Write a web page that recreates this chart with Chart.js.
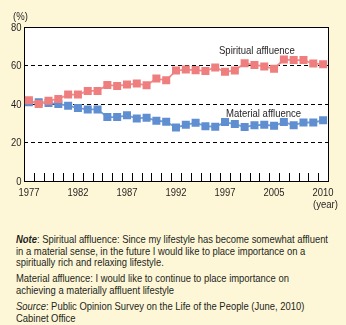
<!DOCTYPE html>
<html>
<head>
<meta charset="utf-8">
<script src="https://cdn.jsdelivr.net/npm/chart.js@4/dist/chart.umd.min.js"></script>
<style>
  html, body { margin: 0; padding: 0; }
  body { width: 346px; height: 325px; background: #FEF7D7; position: relative; overflow: hidden;
         font-family: "Liberation Sans", Arial, sans-serif; color: #231f20; }
  #c { position: absolute; left: 0; top: 0; }
  .lbl { position: absolute; white-space: nowrap; font-size: 11.5px; line-height: 12px; transform-origin: 0 50%; transform: scaleX(0.83); }
  .note { position: absolute; left: 16px; white-space: nowrap; font-size: 11px; line-height: 11.5px; transform-origin: 0 0; }
</style>
</head>
<body>
<canvas id="c" width="346" height="215"></canvas>
<div class="lbl" style="left:13px; top:10px;">(%)</div>
<div class="lbl" style="left:313px; top:198px;">(year)</div>
<div class="lbl" style="left:219px; top:44px;">Spiritual affluence</div>
<div class="lbl" style="left:226px; top:107px;">Material affluence</div>
<div class="note" id="n1" style="top:234px;"><b><i>Note</i></b>: Spiritual affluence: Since my lifestyle has become somewhat affluent<br>in a material sense, in the future I would like to place importance on a<br>spiritually rich and relaxing lifestyle.</div>
<div class="note" style="top:273px;">Material affluence: I would like to continue to place importance on<br>achieving a materially affluent lifestyle</div>
<div class="note" style="top:301px;"><i>Source</i>: Public Opinion Survey on the Life of the People (June, 2010)<br>Cabinet Office</div>
<script>
const categories = ['1977','1978','1979','1980','1981','1982','1983','1984','1985','1986',
  '1987','1988','1989','1990','1991','1992','1993','1994','1995','1996',
  '1997','1999','2001','2002','2003','2005','2006','2007','2008','2009','2010'];
const tickLabels = ['1977','1982','1987','1992','1997','2005','2010'];
const spiritual = [41.9,40.0,41.7,42.6,44.9,44.9,46.8,46.8,49.9,49.4,
  50.1,50.6,49.7,53.2,52.3,57.4,57.9,57.6,57.2,59.0,
  56.7,57.4,61.2,60.3,59.5,58.3,63.1,62.8,62.8,61.0,60.7];
const material = [40.9,40.9,40.5,40.0,39.1,37.9,37.2,37.2,33.2,33.2,
  34.1,32.5,32.9,31.3,30.8,27.8,29.2,30.3,28.5,28.2,
  30.6,29.6,28.0,29.0,29.2,28.7,30.6,29.0,30.4,30.4,31.5];
const yTicks = [0,20,40,60,80];

// fit note text width to the reference line width
(function () {
  const n1 = document.getElementById('n1');
  const w = n1.getBoundingClientRect().width;
  const k = 312 / w;
  document.querySelectorAll('.note').forEach(el => { el.style.transform = 'scaleX(' + k + ')'; });
})();

const TICK_FONT = '11.5px "Liberation Sans", Arial, sans-serif';
const SQZ = 0.82;

function squeezedText(ctx, text, x, y, align) {
  ctx.save();
  ctx.translate(x, y);
  ctx.scale(SQZ, 1);
  ctx.textAlign = align;
  ctx.textBaseline = 'middle';
  ctx.fillText(text, 0, 0);
  ctx.restore();
}

const framePlugin = {
  id: 'frame',
  beforeDraw(chart) {
    const {ctx, chartArea: a} = chart;
    ctx.save();
    ctx.fillStyle = '#ffffff';
    ctx.fillRect(a.left, a.top, a.right - a.left, a.bottom - a.top);
    ctx.restore();
  },
  beforeDatasetsDraw(chart) {
    const {ctx, chartArea: a, scales: {x, y}} = chart;
    ctx.save();
    ctx.strokeStyle = '#000';
    ctx.lineWidth = 1;
    ctx.beginPath();
    for (let i = 0; i < categories.length - 1; i++) {
      const px = Math.round((x.getPixelForValue(i) + x.getPixelForValue(i + 1)) / 2) + 0.5;
      ctx.moveTo(px, a.bottom);
      ctx.lineTo(px, a.bottom - 8);
    }
    ctx.stroke();
    ctx.strokeRect(Math.round(a.left) + 0.5, Math.round(a.top) + 0.5,
      Math.round(a.right) - Math.round(a.left), Math.round(a.bottom) - Math.round(a.top));
    ctx.fillStyle = '#231f20';
    ctx.font = TICK_FONT;
    categories.forEach((c, i) => {
      if (tickLabels.includes(c)) squeezedText(ctx, c, x.getPixelForValue(i), a.bottom + 11.5, 'center');
    });
    yTicks.forEach(v => squeezedText(ctx, String(v), a.left - 2.5, y.getPixelForValue(v) + 0.5, 'right'));
    ctx.restore();
  }
};

new Chart(document.getElementById('c'), {
  type: 'line',
  data: {
    labels: categories,
    datasets: [
      { label: 'Spiritual affluence', data: spiritual, borderColor: '#F18C8C', backgroundColor: '#EF7E7E',
        pointBorderColor: '#EF7E7E', pointStyle: 'rect', pointRadius: 4.4, borderWidth: 1.8, tension: 0 },
      { label: 'Material affluence', data: material, borderColor: '#6E9BD6', backgroundColor: '#5F8FD1',
        pointBorderColor: '#5F8FD1', pointStyle: 'rect', pointRadius: 4.4, borderWidth: 1.8, tension: 0 }
    ]
  },
  options: {
    responsive: false,
    animation: false,
    layout: { padding: { left: 0, right: 18, top: 27, bottom: 0 } },
    plugins: { legend: { display: false }, tooltip: { enabled: false } },
    scales: {
      x: {
        type: 'category',
        offset: true,
        grid: { display: false, drawTicks: false },
        border: { display: false },
        ticks: { display: false, autoSkip: false },
        afterFit: s => { s.height = 34; }
      },
      y: {
        min: 0, max: 80,
        afterBuildTicks: s => { s.ticks = yTicks.map(v => ({ value: v })); },
        grid: {
          drawTicks: false, lineWidth: 1,
          color: c => (c.tick && c.tick.value > 0 && c.tick.value < 80) ? '#000' : 'rgba(0,0,0,0)'
        },
        border: { display: false, dash: [4, 3] },
        ticks: { display: false },
        afterFit: s => { s.width = 24; }
      }
    }
  },
  plugins: [framePlugin]
});
</script>
</body>
</html>
